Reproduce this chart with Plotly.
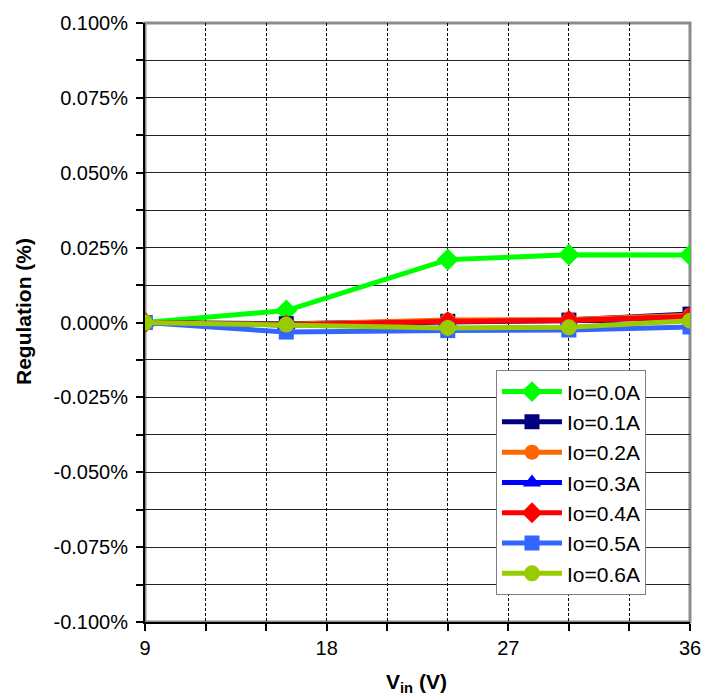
import plotly.graph_objects as go

vin = [9, 16, 24, 30, 36]
series_names = ["Io=0.0A", "Io=0.1A", "Io=0.2A", "Io=0.3A", "Io=0.4A", "Io=0.5A", "Io=0.6A"]
io_00 = [0.0, 0.0040, 0.0210, 0.0226, 0.0225]
io_01 = [0.0, -0.0004, 0.0004, 0.0008, 0.0028]
io_02 = [0.0, -0.0006, 0.0008, 0.0010, 0.0024]
io_03 = [0.0, -0.0008, 0.0002, 0.0006, 0.0018]
io_04 = [0.0, -0.0008, 0.0003, 0.0007, 0.0019]
io_05 = [0.0, -0.0032, -0.0027, -0.0025, -0.0015]
io_06 = [0.0, -0.0007, -0.0018, -0.0016, 0.0006]
all_values = [io_00, io_01, io_02, io_03, io_04, io_05, io_06]

y_tick_vals = [-0.1, -0.075, -0.05, -0.025, 0.0, 0.025, 0.05, 0.075, 0.1]
y_tick_labels = ["-0.100%", "-0.075%", "-0.050%", "-0.025%", "0.000%",
                 "0.025%", "0.050%", "0.075%", "0.100%"]
x_tick_vals = [9, 18, 27, 36]
x_tick_labels = ["9", "18", "27", "36"]

colors = ["#00FF00", "#000080", "#FF6600", "#0000FF", "#FF0000", "#3366FF", "#99CC00"]
symbols = ["diamond", "square", "circle", "triangle-up", "diamond", "square", "circle"]
sizes = [17, 15, 15, 16, 16, 15, 16]

fig = go.Figure()
for name, vals, c, s, sz in zip(series_names, all_values, colors, symbols, sizes):
    fig.add_trace(go.Scatter(
        x=vin, y=vals, name=name, mode="lines+markers",
        line=dict(color=c, width=5),
        marker=dict(color=c, symbol=s, size=sz, line=dict(width=0)),
    ))

font_family = "Liberation Sans, Arial, sans-serif"

fig.update_layout(
    width=719, height=700,
    margin=dict(l=145, r=29, t=15, b=78),
    paper_bgcolor="white", plot_bgcolor="white",
    font=dict(family=font_family, size=20, color="black"),
    showlegend=True,
    legend=dict(
        x=0.644, y=0.42, xanchor="left", yanchor="top",
        bgcolor="white", bordercolor="#808080", borderwidth=1,
        font=dict(size=21), tracegroupgap=0, itemsizing="trace",
        itemwidth=60,
    ),
    shapes=[dict(type="rect", xref="paper", yref="paper", x0=0, y0=0, x1=1, y1=1,
                 line=dict(color="#8c8c8c", width=3), layer="below")],
    annotations=[
        dict(text="<b>Regulation (%)</b>", textangle=-90, xref="paper", yref="paper",
             x=-0.224, y=0.519, xanchor="center", yanchor="middle", showarrow=False,
             font=dict(size=21)),
        dict(text="<b>V<sub>in</sub> (V)</b>", xref="paper", yref="paper",
             x=0.498, y=-0.102, xanchor="center", yanchor="middle", showarrow=False,
             font=dict(size=21)),
    ],
)

fig.update_xaxes(
    range=[9, 36], tickmode="array", tickvals=x_tick_vals, ticktext=x_tick_labels,
    showgrid=True, gridcolor="black", gridwidth=1, griddash="3px,2px",
    showline=True, linecolor="black", linewidth=2,
    ticks="outside", ticklen=7, tickcolor="black", tickwidth=1.5,
    minor=dict(tickmode="linear", dtick=3, tick0=9, showgrid=True, gridcolor="black",
               griddash="3px,2px", ticks="outside", ticklen=7, tickcolor="black",
               tickwidth=1.5),
    zeroline=False,
    tickfont=dict(size=20),
)
fig.update_yaxes(
    range=[-0.1, 0.1], tickmode="array", tickvals=y_tick_vals, ticktext=y_tick_labels,
    showgrid=True, gridcolor="#222222", gridwidth=1,
    showline=True, linecolor="black", linewidth=2,
    ticks="outside", ticklen=7, tickcolor="black", tickwidth=1.5,
    minor=dict(tickmode="linear", dtick=0.0125, tick0=-0.1, showgrid=True,
               gridcolor="#222222", ticks="outside", ticklen=7, tickcolor="black",
               tickwidth=1.5),
    zeroline=False,
    tickfont=dict(size=20),
    ticklabelstandoff=4,
)

# Remove the default 8px body margin so the figure fills the window exactly.
fig.write_html("out.html", config={"displayModeBar": False},
               post_script="document.body.style.margin='0';")
